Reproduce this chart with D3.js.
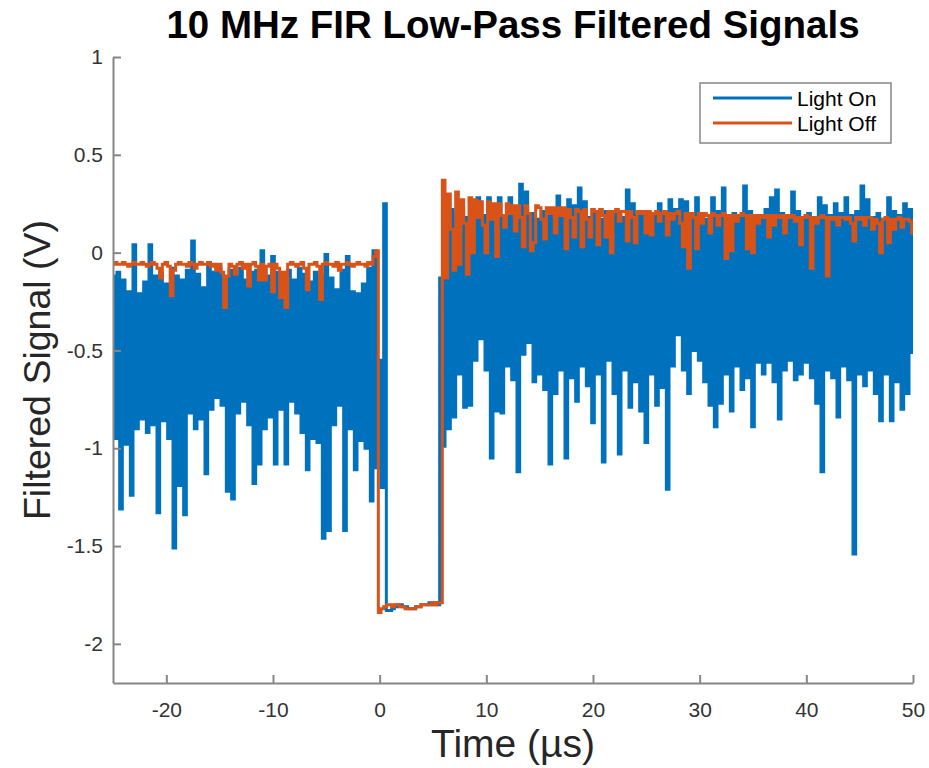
<!DOCTYPE html>
<meta charset="utf-8">
<style>
body { margin: 0; background: #fff; }
text { font-family: "Liberation Sans", Arial, Helvetica, sans-serif; }
.axis path, .axis line { stroke: #868686; stroke-width: 2; }
.axis text { fill: #333; font-size: 21px; }
</style>
<svg width="929" height="768"></svg>
<script src="https://cdn.jsdelivr.net/npm/d3@7"></script>
<script>

// sample grid (µs)
var tStart = -25, tStep = 0.25;

// Light On (V), one value per sample
var lightOn = [
  -0.12, -0.95, -0.10, -1.31, -0.14, -0.98, -0.20, -1.24, 0.04, -0.90,
  -0.21, -0.85, -0.15, -0.92, 0.04, -0.88, -0.12, -1.33, -0.10, -0.86,
  -0.16, -0.95, -0.08, -1.51, -0.12, -1.19, -0.14, -1.34, -0.09, -0.82,
  0.06, -0.90, -0.11, -0.85, -0.18, -1.13, -0.05, -0.80, -0.10, -0.74,
  -0.08, -0.78, -0.13, -1.22, -0.09, -1.26, -0.12, -0.82, -0.08, -0.76,
  -0.14, -0.88, -0.10, -1.18, -0.09, -1.08, 0.01, -0.90, -0.12, -0.84,
  -0.02, -1.08, -0.10, -0.80, -0.13, -1.08, -0.09, -0.76, -0.14, -0.82,
  -0.08, -0.92, -0.11, -1.11, -0.15, -0.95, -0.10, -0.97, -0.12, -1.46,
  -0.01, -1.42, -0.13, -0.88, -0.19, -0.78, -0.09, -1.42, -0.02, -0.90,
  -0.20, -1.11, -0.21, -0.96, -0.16, -1.00, -0.08, -1.27, 0.01, -1.10,
  -0.55, -1.20, 0.25, -1.83, -1.83, -1.82, -1.81, -1.80, -1.80, -1.81,
  -1.81, -1.82, -1.82, -1.82, -1.81, -1.81, -1.80, -1.80, -1.80, -1.79,
  -1.80, -1.79, -1.80, -0.13,
  -0.99, 0.24, -0.90, 0.22, -0.84, 0.20, -0.62, 0.23, -0.79, 0.18,
  -0.78, 0.21, -0.55, 0.28, -0.44, 0.19, -0.60, 0.28, -1.05, 0.20,
  -0.81, 0.28, -0.82, 0.18, -0.58, 0.28, -0.65, 0.22, -1.12, 0.35,
  -0.52, 0.31, -0.46, 0.20, -0.66, 0.17, -0.62, 0.21, -0.70, 0.19,
  -1.08, 0.22, -0.72, 0.29, -0.60, 0.20, -1.05, 0.27, -0.64, 0.24,
  -0.76, 0.33, -0.58, 0.26, -0.68, 0.18, -0.87, 0.20, -0.62, 0.17,
  -1.07, 0.21, -0.55, 0.19, -0.72, 0.20, -1.03, 0.18, -0.60, 0.32,
  -0.79, 0.25, -0.66, 0.19, -0.81, 0.21, -0.97, 0.18, -0.62, 0.20,
  -0.78, 0.25, -0.69, 0.19, -1.21, 0.27, -0.58, 0.22, -0.42, 0.27,
  -0.60, 0.26, -0.72, 0.18, -0.50, 0.28, -0.55, 0.20, -0.66, 0.17,
  -0.78, 0.28, -0.89, 0.21, -0.77, 0.33, -0.62, 0.19, -0.81, 0.20,
  -0.58, 0.18, -0.70, 0.34, -0.64, 0.21, -0.89, 0.19, -0.56, 0.17,
  -0.62, 0.22, -0.56, 0.28, -0.66, 0.32, -0.85, 0.20, -0.60, 0.19,
  -0.55, 0.31, -0.65, 0.21, -0.62, 0.18, -0.56, 0.20, -0.64, 0.17,
  -0.77, 0.28, -1.12, 0.24, -0.60, 0.19, -0.64, 0.25, -0.84, 0.20,
  -0.58, 0.28, -0.65, 0.19, -1.54, 0.21, -0.62, 0.34, -0.68, 0.27,
  -0.60, 0.18, -0.72, 0.20, -0.86, 0.17, -0.62, 0.28, -0.86, 0.21,
  -0.66, 0.19, -0.80, 0.25, -0.72, 0.22, -0.51
];

// Light Off (V), same grid
var lightOff = [
  -0.06, -0.05, -0.06, -0.06, -0.05, -0.06, -0.07, -0.06, -0.05, -0.06,
  -0.06, -0.05, -0.06, -0.07, -0.06, -0.05, -0.06, -0.08, -0.13, -0.06,
  -0.05, -0.07, -0.22, -0.09, -0.06, -0.05, -0.06, -0.06, -0.07, -0.05,
  -0.06, -0.08, -0.06, -0.05, -0.06, -0.06, -0.05, -0.07, -0.06, -0.09,
  -0.06, -0.10, -0.28, -0.12, -0.06, -0.07, -0.11, -0.06, -0.05, -0.08,
  -0.06, -0.17, -0.06, -0.05, -0.07, -0.14, -0.06, -0.14, -0.07, -0.06,
  -0.20, -0.06, -0.08, -0.23, -0.10, -0.28, -0.06, -0.05, -0.06, -0.07,
  -0.06, -0.05, -0.08, -0.19, -0.06, -0.06, -0.05, -0.07, -0.24, -0.06,
  -0.05, -0.06, -0.06, -0.07, -0.05, -0.09, -0.06, -0.06, -0.05, -0.06,
  -0.07, -0.06, -0.05, -0.06, -0.06, -0.07, -0.05, -0.06, -0.02, 0.01,
  -1.84, -1.82, -1.81, -1.80, -1.80, -1.81, -1.80, -1.80, -1.81, -1.81,
  -1.82, -1.82, -1.82, -1.82, -1.81, -1.81, -1.80, -1.80, -1.80, -1.80,
  -1.79, -1.80, -1.79, -1.79,
  0.37, -0.13, 0.30, 0.12, -0.09, 0.31, -0.06, 0.27, 0.15, -0.11,
  0.28, 0.00, 0.27, 0.18, 0.26, 0.14, 0.00, 0.26, 0.17, 0.25,
  -0.02, 0.25, 0.19, 0.13, 0.25, 0.20, 0.24, 0.11, 0.24, 0.18,
  0.03, 0.24, 0.20, 0.01, 0.05, 0.24, 0.23, 0.17, 0.07, 0.23,
  0.20, 0.23, 0.10, 0.23, 0.19, 0.23, 0.02, 0.22, 0.18, 0.08,
  0.22, 0.21, 0.03, 0.22, 0.17, 0.08, 0.22, 0.21, 0.04, 0.22,
  0.19, 0.08, 0.21, 0.00, 0.21, 0.22, 0.16, 0.21, 0.21, 0.06,
  0.21, 0.18, 0.05, 0.21, 0.20, 0.21, 0.10, 0.21, 0.09, 0.20,
  0.21, 0.16, 0.20, 0.21, 0.09, 0.20, 0.17, 0.20, 0.21, 0.15,
  0.03, 0.20, -0.08, 0.20, 0.18, 0.02, 0.20, 0.15, 0.20, 0.19,
  0.10, 0.20, 0.19, 0.14, 0.19, 0.20, -0.03, 0.19, 0.01, 0.19,
  0.16, 0.19, 0.20, 0.19, 0.02, 0.19, 0.00, 0.19, 0.15, 0.19,
  0.18, 0.19, 0.08, 0.19, 0.14, 0.19, 0.18, 0.19, 0.10, 0.19,
  0.18, 0.19, 0.16, 0.18, 0.04, 0.18, 0.19, 0.18, -0.08, 0.18,
  0.15, 0.18, 0.19, 0.18, -0.12, 0.18, 0.17, 0.18, 0.14, 0.18,
  0.18, 0.17, 0.18, 0.15, 0.06, 0.18, 0.17, 0.18, 0.14, 0.18,
  0.18, 0.12, 0.17, 0.15, 0.00, 0.17, 0.18, 0.05, 0.17, 0.12,
  0.17, 0.18, 0.13, 0.17, 0.17, 0.16, 0.10
];

var seriesNames = ["Light On", "Light Off"];
var seriesColors = ["#0072BD", "#D95319"];

var xTicks = [-20, -10, 0, 10, 20, 30, 40, 50];
var yTicks = [-2, -1.5, -1, -0.5, 0, 0.5, 1];
var yTickLabels = ["-2", "-1.5", "-1", "-0.5", "0", "0.5", "1"];

var svg = d3.select("svg"),
    margin = {top: 57, right: 16, bottom: 85, left: 113},
    width = +svg.attr("width") - margin.left - margin.right,
    height = +svg.attr("height") - margin.top - margin.bottom;

var g = svg.append("g")
    .attr("transform", "translate(" + margin.left + "," + margin.top + ")");

var x = d3.scaleLinear().domain([-25, 50]).range([0, width]);
var y = d3.scaleLinear().domain([-2.2, 1]).range([height, 0]);

g.append("clipPath").attr("id", "clip")
  .append("rect").attr("width", width).attr("height", height);

// step curve: the dense record reads as vertical strokes
var line = d3.line()
    .curve(d3.curveStep)
    .x(function(d, i) { return x(tStart + i * tStep); })
    .y(function(d) { return y(d); });

[lightOn, lightOff].forEach(function(s, k) {
  g.append("path")
      .datum(s)
      .attr("clip-path", "url(#clip)")
      .attr("fill", "none")
      .attr("stroke", seriesColors[k])
      .attr("stroke-width", 3)
      .attr("d", line);
});

// axes, ticks pointing in
g.append("g")
    .attr("class", "axis")
    .attr("transform", "translate(0," + height + ")")
    .call(d3.axisBottom(x).tickValues(xTicks).tickSizeInner(-8).tickSizeOuter(0).tickPadding(19)
      .tickFormat(function(d) { return String(d); }));

g.append("g")
    .attr("class", "axis")
    .call(d3.axisLeft(y).tickValues(yTicks).tickSizeInner(-8).tickSizeOuter(0).tickPadding(10)
      .tickFormat(function(d, i) { return yTickLabels[i]; }));

// title and labels
svg.append("text")
    .attr("x", margin.left + width / 2)
    .attr("y", 38)
    .attr("text-anchor", "middle")
    .attr("font-size", "38.5px")
    .attr("font-weight", "bold")
    .attr("fill", "#000")
    .text("10 MHz FIR Low-Pass Filtered Signals");

svg.append("text")
    .attr("x", margin.left + width / 2)
    .attr("y", 757)
    .attr("text-anchor", "middle")
    .attr("font-size", "39px")
    .attr("fill", "#262626")
    .text("Time (\u00b5s)");

svg.append("text")
    .attr("transform", "translate(50," + (margin.top + y(-0.6)) + ") rotate(-90)")
    .attr("text-anchor", "middle")
    .attr("font-size", "37.5px")
    .attr("fill", "#262626")
    .text("Filtered Signal (V)");

// legend
var legend = svg.append("g").attr("transform", "translate(700,83)");

legend.append("rect")
    .attr("width", 191)
    .attr("height", 60)
    .attr("fill", "#fff")
    .attr("stroke", "#868686")
    .attr("stroke-width", 1.5);

seriesNames.forEach(function(name, k) {
  legend.append("line")
      .attr("x1", 13).attr("x2", 92)
      .attr("y1", 15 + k * 25).attr("y2", 15 + k * 25)
      .attr("stroke", seriesColors[k])
      .attr("stroke-width", 3);
  legend.append("text")
      .attr("x", 97)
      .attr("y", 23 + k * 25)
      .attr("font-size", "21px")
      .attr("fill", "#000")
      .text(name);
});

</script>
